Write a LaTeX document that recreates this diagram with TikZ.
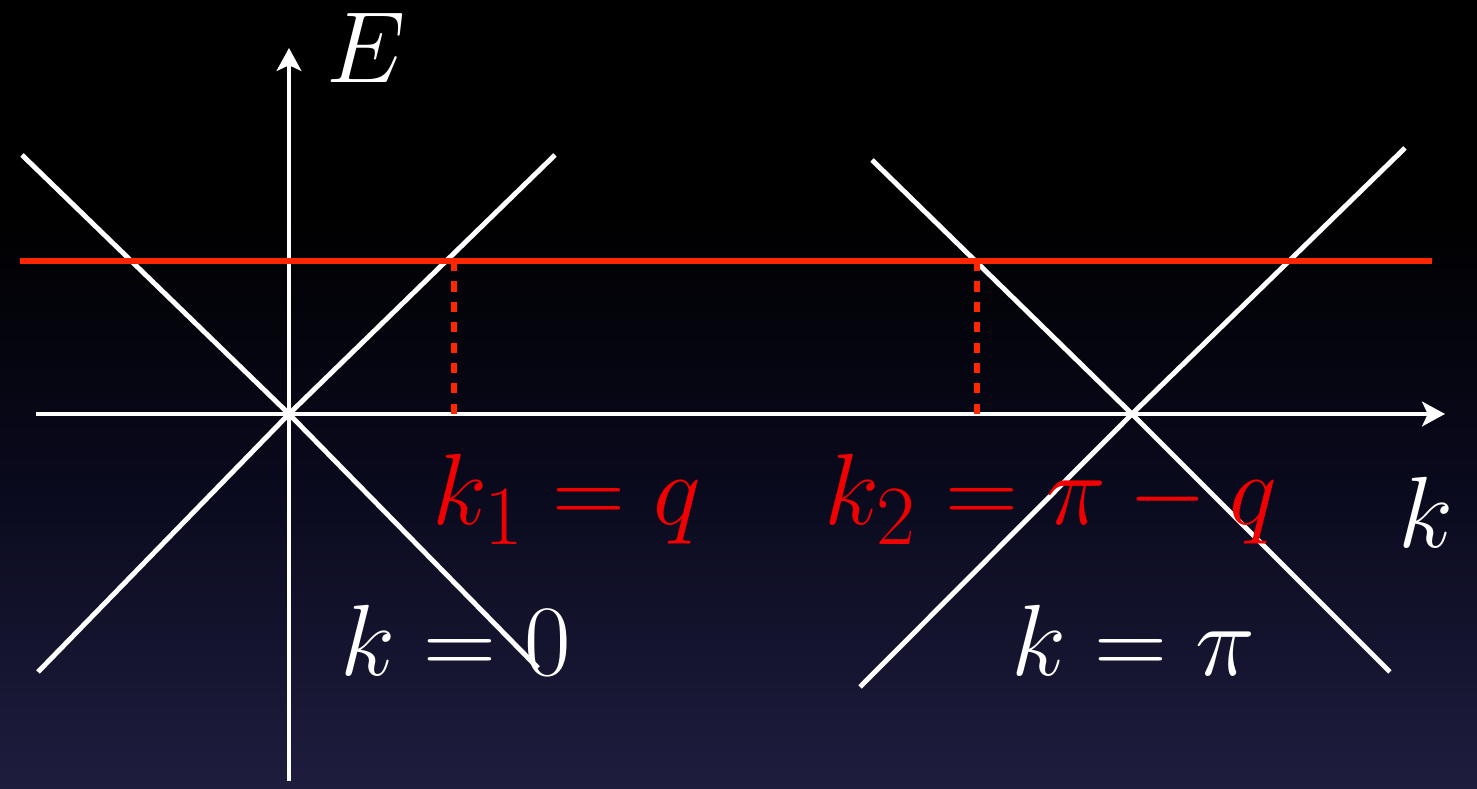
\documentclass[tikz,border=0pt]{standalone}
\usepackage{amsmath}
\usepackage{tikz}
\usetikzlibrary{arrows.meta}

\definecolor{bgnavy}{RGB}{30,29,62}
\definecolor{bgmid}{RGB}{9,9,28}
\definecolor{levelred}{RGB}{255,38,0}
\definecolor{labelred}{RGB}{240,0,0}
\pgfdeclareverticalshading{bgfade}{100bp}{color(0bp)=(bgnavy); color(25bp)=(bgnavy); color(45bp)=(bgmid); color(62bp)=(black); color(100bp)=(black)}

\begin{document}
\begin{tikzpicture}[
  font=\Huge,
  axis/.style={draw=white, line width=1.4pt},
  cone/.style={draw=white, line width=1.4pt},
  level/.style={draw=levelred, line width=1.6pt},
  drop/.style={draw=levelred, line width=1.5pt, dash pattern=on 2.9pt off 2.9pt},
  lbl/.style={anchor=base, inner sep=0pt, scale=1.157, text=white},
  redlbl/.style={lbl, text=labelred},
  >={Stealth[length=6.5pt, width=7pt, inset=1.6pt]}]
% background
\shade[shading=bgfade] (-2.89,-3.75) rectangle (11.88,4.14);
\useasboundingbox (-2.89,-3.75) rectangle (11.88,4.14);
% crossing points
\coordinate (O) at (0,0);
\coordinate (P) at (8.43,0);
% axes
\coordinate (kstart) at (-2.53,0);
\coordinate (kend) at (11.56,0);
\coordinate (Estart) at (0,-3.67);
\coordinate (Eend) at (0,3.66);
\draw[axis, ->] (kstart) -- (kend);
\draw[axis, ->] (Estart) -- (Eend);
% cone at k=0
\coordinate (a1) at (-2.67,2.59);
\coordinate (a2) at (2.49,-2.54);
\coordinate (b1) at (2.66,2.59);
\coordinate (b2) at (-2.51,-2.58);
\draw[cone] (a1) -- (O) -- (a2);
\draw[cone] (b1) -- (O) -- (b2);
% cone at k=pi
\coordinate (c1) at (5.83,2.54);
\coordinate (c2) at (11.01,-2.58);
\coordinate (d1) at (11.16,2.66);
\coordinate (d2) at (5.71,-2.73);
\draw[cone] (c1) -- (P) -- (c2);
\draw[cone] (d1) -- (P) -- (d2);
% energy level
\coordinate (lstart) at (-2.69,1.53);
\coordinate (lend) at (11.43,1.53);
\coordinate (q1) at (1.65,1.53);
\coordinate (q2) at (6.88,1.53);
\coordinate (q1foot) at (1.65,0);
\coordinate (q2foot) at (6.88,0);
\draw[level] (lstart) -- (lend);
\draw[drop] (q1) -- (q1foot);
\draw[drop] (q2) -- (q2foot);
% labels
\node[lbl] (Elabel) at (0.77,3.31) {$E$};
\node[lbl] (klabel) at (11.37,-1.34) {$k$};
\node[redlbl] (k1) at (2.78,-1.11) {$k_1=q$};
\node[redlbl] (k2) at (7.62,-1.11) {$k_2=\pi-q$};
\node[lbl] (kzero) at (1.67,-2.62) {$k=0$};
\node[lbl] (kpi) at (8.44,-2.62) {$k=\pi$};
\end{tikzpicture}
\end{document}
